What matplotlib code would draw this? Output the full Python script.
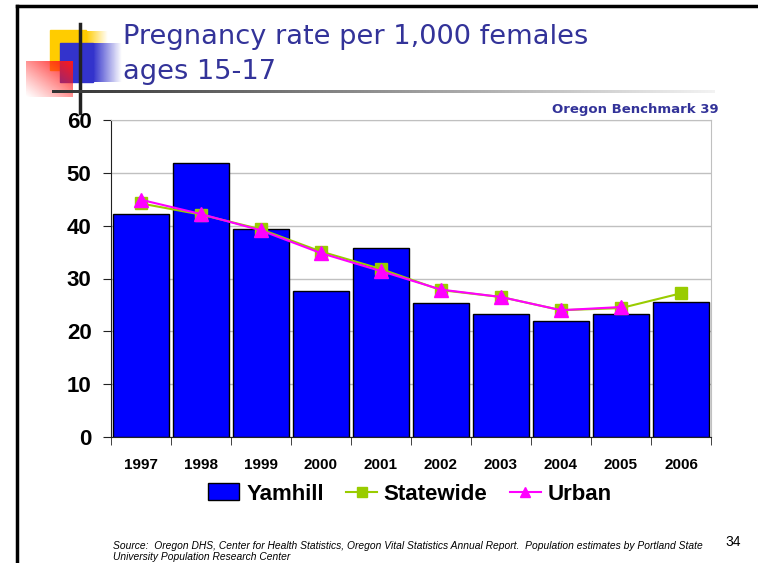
import matplotlib
matplotlib.use("Agg")
import matplotlib.pyplot as plt
import numpy as np
from matplotlib.patches import Rectangle

years = ["1997", "1998", "1999", "2000", "2001", "2002", "2003", "2004", "2005", "2006"]
yamhill = [42.2, 51.9, 39.4, 27.6, 35.7, 25.4, 23.3, 21.9, 23.3, 25.6]
statewide = [44.2, 42.1, 39.3, 35.1, 31.8, 27.8, 26.5, 24.0, 24.4, 27.2]
urban = [44.9, 42.2, 39.1, 34.8, 31.4, 27.9, 26.5, 24.0, 24.6]

title_lines = ["Pregnancy rate per 1,000 females", "ages 15-17"]
source_lines = ["Source:  Oregon DHS, Center for Health Statistics, Oregon Vital Statistics Annual Report.  "
                "Population estimates by Portland State",
                "University Population Research Center"]

W, H = 758, 563
TITLE_COLOR = "#333399"


def fx(px):
    return px / W


def fy(py):
    return 1 - py / H


def main():
    fig = plt.figure(figsize=(W / 100, H / 100), dpi=100)

    # slide decoration, drawn in pixel coords
    deco = fig.add_axes([0, 0, 1, 1], zorder=0)
    deco.set_xlim(0, W)
    deco.set_ylim(H, 0)
    deco.axis("off")

    def hgrad(x0, x1, y0, y1, rgb, z):
        img = np.ones((1, 64, 4))
        img[..., :3] = rgb
        img[..., 3] = 1 - np.linspace(0, 1, 64)
        deco.imshow(img, extent=(x0, x1, y1, y0), aspect="auto", interpolation="bilinear", zorder=z)

    yellow = (1.0, 0.8, 0.0)
    blue = (0.2, 0.2, 0.8)
    deco.add_patch(Rectangle((50, 30), 36, 40, color=yellow, zorder=1))
    hgrad(86, 108, 31, 43, yellow, 1)
    deco.add_patch(Rectangle((60, 43), 33, 39, color=blue, zorder=2))
    hgrad(93, 122, 43, 82, blue, 2)
    # red square fading towards bottom-left
    n = 64
    u, v = np.meshgrid(np.linspace(0, 1, n), np.linspace(0, 1, n))
    red = np.ones((n, n, 4))
    red[..., 1] = 0.1
    red[..., 2] = 0.1
    red[..., 3] = np.clip((u + (1 - v)) / 2, 0, 1) ** 1.1
    deco.imshow(red, extent=(26, 73, 97, 61), aspect="auto", interpolation="bilinear", zorder=3)
    deco.plot([80, 80], [24, 113], color="#222222", lw=2.5, zorder=4)
    # underline fading to light grey
    line = np.ones((1, 128, 4))
    g = np.linspace(0.2, 0.95, 128)
    line[0, :, 0] = g
    line[0, :, 1] = g
    line[0, :, 2] = g
    deco.imshow(line, extent=(52, 715, 93, 90), aspect="auto", interpolation="bilinear", zorder=4)
    # slide border
    deco.plot([17, 17], [H, 6], color="black", lw=2.5, zorder=5)
    deco.plot([17, W], [6, 6], color="black", lw=2.5, zorder=5)

    for i, text in enumerate(title_lines):
        fig.text(fx(123), fy(44 + 35 * i), text, color=TITLE_COLOR, fontsize=19.6,
                 family="DejaVu Sans", va="baseline", ha="left")

    fig.text(fx(719), fy(109), "Oregon Benchmark 39", color=TITLE_COLOR, fontsize=9.5,
             fontweight="bold", family="DejaVu Sans", ha="right", va="center")

    for i, text in enumerate(source_lines):
        fig.text(fx(113), fy(546 + 11 * i), text, fontsize=7.4, style="italic",
                 family="Liberation Sans", ha="left", va="center")
    fig.text(fx(733), fy(542), "34", fontsize=10, family="Liberation Sans", ha="center", va="center")

    # chart
    ax = fig.add_axes([fx(111), fy(437), fx(711) - fx(111), fy(120) - fy(437)], zorder=2)
    ax.patch.set_alpha(0)
    x = np.arange(len(years))
    ax.bar(x, yamhill, width=0.93, color="#0000FF", edgecolor="black", linewidth=1,
           label="Yamhill", zorder=2)
    ax.plot(x[:len(statewide)], statewide, color="#99CC00", lw=1.5, marker="s", markersize=9,
            label="Statewide", zorder=3)
    ax.plot(x[:len(urban)], urban, color="#FF00FF", lw=1.5, marker="^", markersize=10,
            label="Urban", zorder=4)

    ax.set_xlim(-0.5, len(years) - 0.5)
    ax.set_ylim(0, 60)
    ax.set_yticks(np.arange(0, 61, 10))
    ax.yaxis.grid(True, color="#c0c0c0", lw=1)
    ax.set_axisbelow(True)
    for lab in ax.get_yticklabels():
        lab.set_fontweight("bold")
        lab.set_fontsize(16)
        lab.set_family("Liberation Sans")
    ax.tick_params(axis="y", direction="out", length=6, pad=8, color="#222222")

    ax.set_xticks(x)
    ax.set_xticklabels(years, fontsize=11, fontweight="bold", family="Liberation Sans")
    ax.set_xticks(np.arange(-0.5, len(years), 1.0), minor=True)
    ax.tick_params(axis="x", which="major", length=0, pad=15)
    ax.tick_params(axis="x", which="minor", length=6, direction="out", color="#222222")

    ax.spines["left"].set_color("#222222")
    ax.spines["bottom"].set_color("#222222")
    ax.spines["right"].set_color("#c0c0c0")
    ax.spines["top"].set_color("#c0c0c0")

    handles, labels = ax.get_legend_handles_labels()
    order = [labels.index(k) for k in ["Yamhill", "Statewide", "Urban"]]
    fig.legend([handles[i] for i in order], [labels[i] for i in order],
               loc="center", bbox_to_anchor=(fx(410), fy(494)), ncol=3,
               frameon=False, prop={"family": "Liberation Sans", "weight": "bold", "size": 16},
               handlelength=1.4, handleheight=0.8, handletextpad=0.3, columnspacing=1.0,
               markerscale=0.75)

    fig.savefig("out.png", dpi=100)


if __name__ == "__main__":
    main()
